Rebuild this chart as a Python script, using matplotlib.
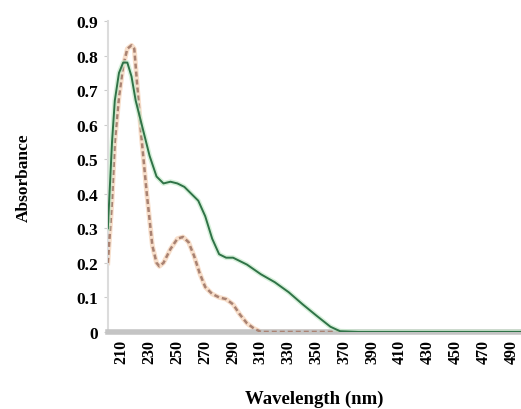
import matplotlib.pyplot as plt

plt.rcParams['font.family'] = ['Liberation Serif', 'DejaVu Serif']
plt.rcParams['font.weight'] = 'bold'

# green solid curve
wl_green = [200, 203, 205, 208, 211, 214, 217, 220, 225, 230, 235, 240, 245,
            250, 255, 260, 265, 270, 275, 280, 285, 290, 295, 300, 310, 320,
            330, 340, 350, 360, 367, 380, 420, 460, 497]
abs_green = [0.30, 0.55, 0.67, 0.75, 0.78, 0.78, 0.74, 0.67, 0.59, 0.51, 0.45,
             0.43, 0.435, 0.43, 0.42, 0.40, 0.38, 0.335, 0.27, 0.225, 0.215,
             0.215, 0.205, 0.195, 0.167, 0.144, 0.115, 0.08, 0.047, 0.015,
             0.002, 0.0, 0.0, 0.0, 0.0]

# orange dashed curve
wl_orange = [200, 203, 205, 208, 211, 214, 217, 219, 221, 224, 228, 232, 235,
             237, 240, 245, 250, 254, 258, 262, 266, 270, 275, 280, 285, 290,
             295, 300, 305, 310, 340, 367]
abs_orange = [0.20, 0.38, 0.55, 0.68, 0.77, 0.82, 0.83, 0.82, 0.72, 0.57, 0.40,
              0.25, 0.20, 0.19, 0.20, 0.24, 0.27, 0.275, 0.26, 0.22, 0.17,
              0.13, 0.11, 0.10, 0.095, 0.08, 0.05, 0.025, 0.01, 0.0, 0.0, 0.0]

xticks = list(range(210, 491, 20))
yticks = [0, 0.1, 0.2, 0.3, 0.4, 0.5, 0.6, 0.7, 0.8, 0.9]

fig = plt.figure(figsize=(5.21, 4.10), dpi=100)
ax = fig.add_axes([0.207, 0.188, 0.793, 0.758])

ax.plot(wl_orange, abs_orange, color='#f3c9a8', lw=3.5, alpha=0.6, zorder=2)
ax.plot(wl_orange, abs_orange, color='#a98272', lw=1.8, ls=(0, (2, 1.2)), zorder=3)
ax.plot(wl_green, abs_green, color='#c6eacb', lw=3.5, alpha=0.7, zorder=4)
ax.plot(wl_green, abs_green, color='#2f7347', lw=1.4, zorder=5)

ax.set_xlim(200, 497)
ax.set_ylim(0, 0.9)

ax.set_xticks(xticks)
ax.set_xticklabels([str(x) for x in xticks], rotation=90, fontsize=11.5, fontweight='bold')
ax.set_yticks(yticks)
ax.set_yticklabels(['0'] + ['%.1f' % v for v in yticks[1:]], fontsize=12.5, fontweight='bold')

for s in ['top', 'right']:
    ax.spines[s].set_visible(False)
ax.spines['left'].set_color('#dcdcdc')
ax.spines['left'].set_linewidth(1.5)
ax.spines['bottom'].set_color('#c4c4c4')
ax.spines['bottom'].set_linewidth(4)

ax.tick_params(axis='x', length=0, pad=5)
ax.tick_params(axis='y', length=3, color='#cccccc', pad=4)

ax.set_xlabel('Wavelength (nm)', fontsize=13.5, fontweight='bold', labelpad=19)
ax.set_ylabel('Absorbance', fontsize=12.5, fontweight='bold', labelpad=32)

fig.savefig('out.png', dpi=100)
